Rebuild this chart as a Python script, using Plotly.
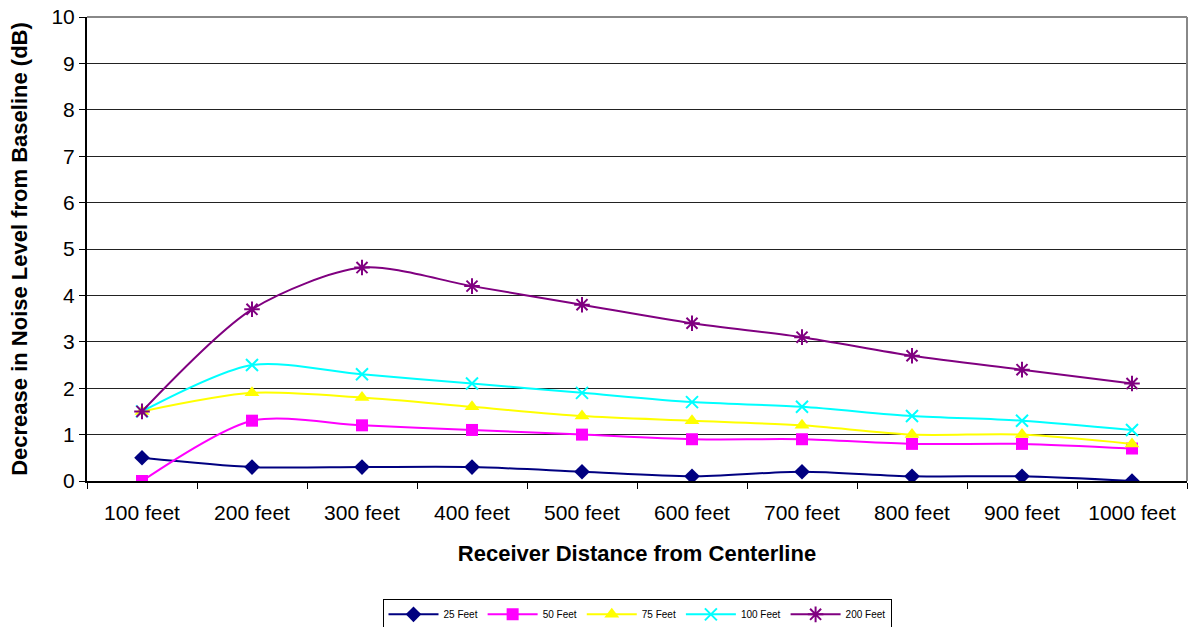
import plotly.graph_objects as go

# Receiver distances (x categories)
distances = ["100 feet", "200 feet", "300 feet", "400 feet", "500 feet",
             "600 feet", "700 feet", "800 feet", "900 feet", "1000 feet"]

# Noise decrease (dB) for each barrier/offset series
feet_25 = [0.5, 0.3, 0.3, 0.3, 0.2, 0.1, 0.2, 0.1, 0.1, 0.0]
feet_50 = [0.0, 1.3, 1.2, 1.1, 1.0, 0.9, 0.9, 0.8, 0.8, 0.7]
feet_75 = [1.5, 1.9, 1.8, 1.6, 1.4, 1.3, 1.2, 1.0, 1.0, 0.8]
feet_100 = [1.5, 2.5, 2.3, 2.1, 1.9, 1.7, 1.6, 1.4, 1.3, 1.1]
feet_200 = [1.5, 3.7, 4.6, 4.2, 3.8, 3.4, 3.1, 2.7, 2.4, 2.1]

series = [
    ("25 Feet", feet_25, "#000080", dict(symbol="diamond", size=12)),
    ("50 Feet", feet_50, "#FF00FF", dict(symbol="square", size=12)),
    ("75 Feet", feet_75, "#FFFF00", dict(symbol="triangle-up", size=13)),
    ("100 Feet", feet_100, "#00FFFF",
     dict(symbol="x-thin", size=12, line=dict(color="#00FFFF", width=2))),
    ("200 Feet", feet_200, "#800080",
     dict(symbol="asterisk", size=13, line=dict(color="#800080", width=2))),
]

fig = go.Figure()
for name, vals, color, mk in series:
    fig.add_trace(go.Scatter(
        x=distances, y=vals, name=name, mode="lines+markers",
        line=dict(color=color, width=2, shape="spline", smoothing=0.8),
        marker=dict(color=color, **mk),
    ))

font_family = "Liberation Sans, Arial, sans-serif"

fig.update_layout(
    width=1194, height=627,
    margin=dict(l=87, r=7, t=17, b=146, autoexpand=False),
    paper_bgcolor="white", plot_bgcolor="white",
    font=dict(family=font_family, color="black"),
    showlegend=True,
    legend=dict(
        orientation="h", x=0.5, xanchor="center", y=-0.254, yanchor="top",
        font=dict(size=10, family=font_family),
        bordercolor="#000000", borderwidth=1,
        itemwidth=50, tracegroupgap=0,
    ),
    xaxis=dict(
        type="category", range=[-0.5, 9.5],
        showline=True, linecolor="#000000", linewidth=2,
        ticks="outside", tickson="boundaries", ticklen=6, tickcolor="#000000",
        tickfont=dict(size=21), ticklabelstandoff=12,
        showgrid=False, mirror=False,
        title=dict(text="<b>Receiver Distance from Centerline</b>",
                   font=dict(size=22), standoff=22),
    ),
    yaxis=dict(
        range=[0, 10], dtick=1,
        showline=True, linecolor="#000000", linewidth=2,
        ticks="outside", ticklen=6, tickcolor="#000000",
        tickfont=dict(size=21),
        showgrid=True, gridcolor="#222222", gridwidth=1,
        zeroline=False,
        title=dict(text="<b>Decrease in Noise Level from Baseline (dB)</b>",
                   font=dict(size=22), standoff=18),
    ),
)

# Grey frame on the top and right edges of the plotting area
fig.add_shape(type="line", xref="paper", yref="paper", x0=0, x1=1, y0=1, y1=1,
              line=dict(color="#888888", width=2))
fig.add_shape(type="line", xref="paper", yref="paper", x0=1, x1=1, y0=0, y1=1,
              line=dict(color="#888888", width=2))

fig.write_html("out.html")
